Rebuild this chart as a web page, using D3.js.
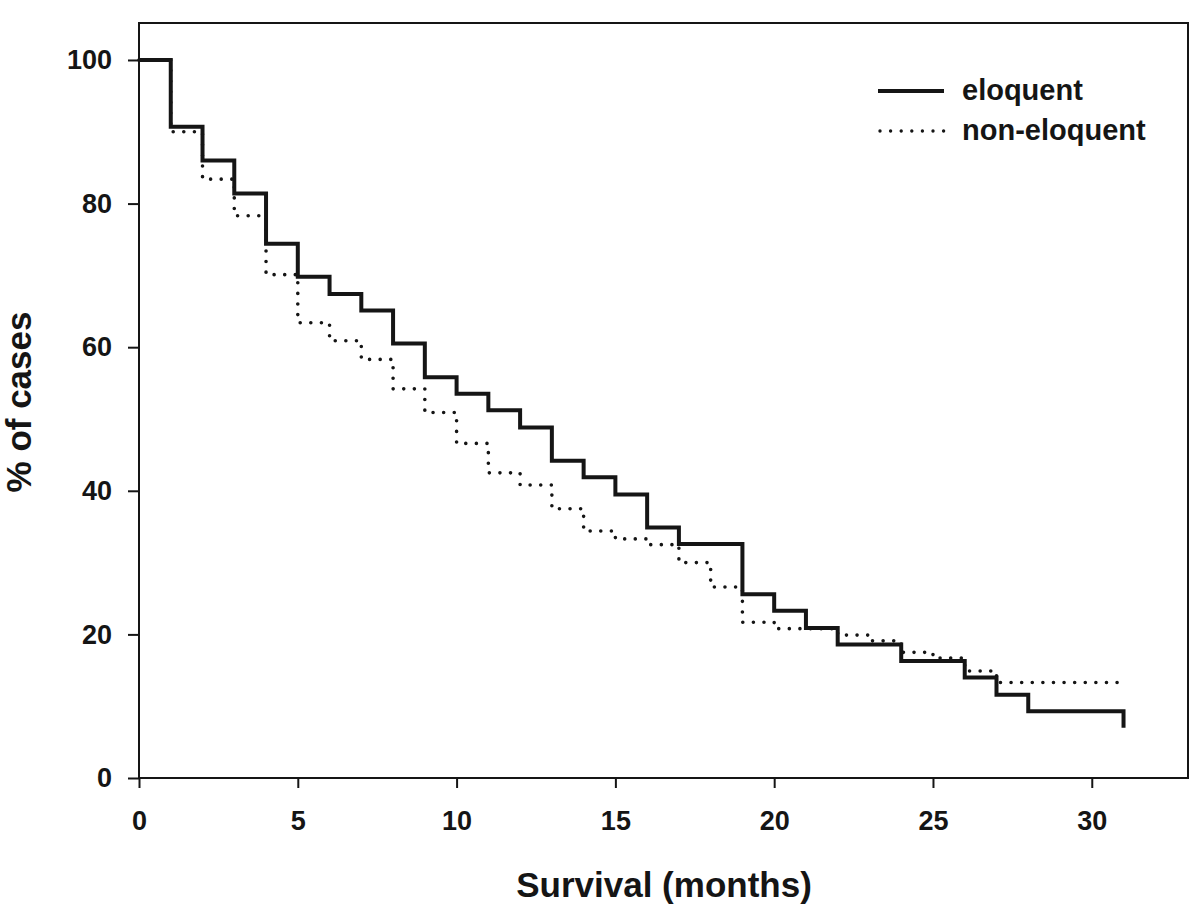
<!DOCTYPE html>
<html>
<head>
<meta charset="utf-8">
<script src="https://cdn.jsdelivr.net/npm/d3@7"></script>
<style>
  html, body { margin: 0; padding: 0; background: #fff; }
  svg { display: block; font-family: "Liberation Sans", Arial, sans-serif; font-weight: bold; }
</style>
</head>
<body>
<svg id="chart" width="1200" height="911"></svg>
<script>
// ---- data ----
const eloquentTimes = [0,1,2,3,4,5,6,7,8,9,10,11,12,13,14,15,16,17,19,20,21,22,24,26,27,28,31];
const eloquentSurvival = [100,90.7,86.0,81.4,74.4,69.8,67.4,65.1,60.5,55.8,53.5,51.2,48.8,44.2,41.9,39.5,34.9,32.6,25.6,23.3,20.9,18.6,16.3,14.0,11.6,9.3,7.0];

const nonEloquentTimes = [0,1,2,3,4,5,6,7,8,9,10,11,12,13,14,15,16,17,18,19,20,22,23,24,25,26,27,31];
const nonEloquentSurvival = [100,90.0,83.4,78.3,70.1,63.4,60.9,58.3,54.2,50.9,46.6,42.5,40.8,37.5,34.4,33.3,32.5,30.0,26.6,21.7,20.8,19.9,19.1,17.5,16.7,14.9,13.3,13.3];

const xTicks = [0,5,10,15,20,25,30];
const yTicks = [0,20,40,60,80,100];
const seriesNames = ["eloquent", "non-eloquent"];
const xTitle = "Survival (months)";
const yTitle = "% of cases";

(function () {
// ---- layout ----
const pLeft = 139, pRight = 1188, pTop = 23, pBottom = 778;
const svg = d3.select("#chart");
const ink = "#151515";

const x = d3.scaleLinear().domain([0, 33.03]).range([pLeft, pRight]);
const y = d3.scaleLinear().domain([0, 105.15]).range([pBottom, pTop]);

// frame
svg.append("rect")
  .attr("x", pLeft).attr("y", pTop)
  .attr("width", pRight - pLeft).attr("height", pBottom - pTop)
  .attr("fill", "none").attr("stroke", ink).attr("stroke-width", 2);

// axes
const yAxis = d3.axisLeft(y).tickValues(yTicks).tickSize(11).tickPadding(16);
const xAxis = d3.axisBottom(x).tickValues(xTicks).tickSize(10).tickPadding(23);

const gy = svg.append("g").attr("transform", `translate(${pLeft},0)`).call(yAxis);
const gx = svg.append("g").attr("transform", `translate(0,${pBottom})`).call(xAxis);
[gx, gy].forEach(g => {
  g.select(".domain").remove();
  g.selectAll(".tick line").attr("stroke", ink).attr("stroke-width", 2);
  g.selectAll(".tick text")
    .attr("fill", ink)
    .style("font-family", '"Liberation Sans", Arial, sans-serif')
    .style("font-weight", "bold")
    .style("font-size", "27px");
});

// lines
const line = d3.line().x(d => x(d[0])).y(d => y(d[1])).curve(d3.curveStepAfter);
const eloData = eloquentTimes.map((t, i) => [t, eloquentSurvival[i]]);
const nonData = nonEloquentTimes.map((t, i) => [t, nonEloquentSurvival[i]]);

svg.append("path").datum(nonData)
  .attr("d", line).attr("fill", "none")
  .attr("stroke", ink).attr("stroke-width", 3.6)
  .attr("stroke-linecap", "round")
  .attr("stroke-dasharray", "0 10.6");

svg.append("path").datum(eloData)
  .attr("d", line).attr("fill", "none")
  .attr("stroke", ink).attr("stroke-width", 4)
  .attr("stroke-linejoin", "miter").attr("stroke-linecap", "butt");

// legend
const lg = svg.append("g");
const legendRows = [
  { name: seriesNames[0], y: 91, dash: null },
  { name: seriesNames[1], y: 131, dash: "0 10.6" }
];
legendRows.forEach(r => {
  const l = lg.append("line")
    .attr("x1", 878).attr("x2", 944).attr("y1", r.y).attr("y2", r.y)
    .attr("stroke", ink);
  if (r.dash) {
    l.attr("stroke-width", 3.4).attr("stroke-linecap", "round").attr("stroke-dasharray", r.dash).attr("x1", 880);
  } else {
    l.attr("stroke-width", 4);
  }
  lg.append("text")
    .attr("x", 962).attr("y", r.y + 9)
    .attr("fill", ink)
    .style("font-size", "29px")
    .text(r.name);
});

// titles
svg.append("text")
  .attr("x", 664).attr("y", 897)
  .attr("text-anchor", "middle")
  .attr("fill", ink)
  .style("font-size", "35px")
  .text(xTitle);

svg.append("text")
  .attr("transform", "translate(31,402) rotate(-90)")
  .attr("text-anchor", "middle")
  .attr("fill", ink)
  .style("font-size", "35px")
  .text(yTitle);
})();
</script>
</body>
</html>
